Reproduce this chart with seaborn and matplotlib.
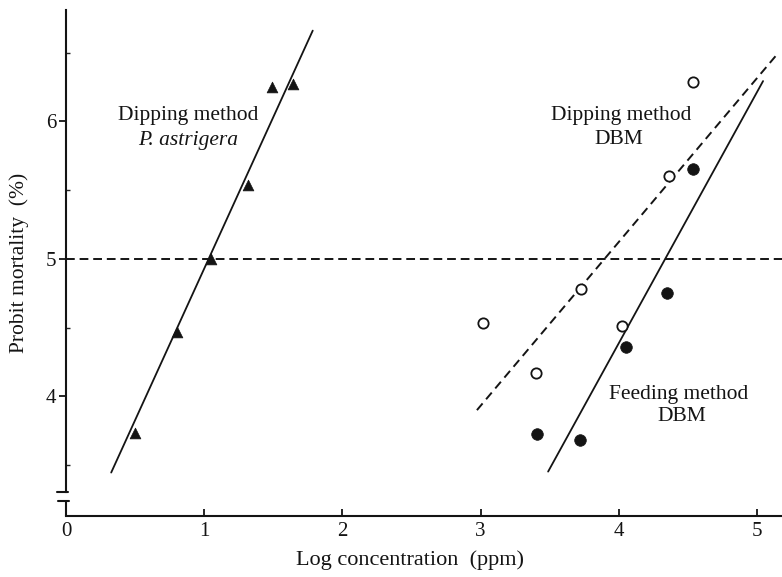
import matplotlib
matplotlib.use("Agg")
import matplotlib.pyplot as plt
import seaborn as sns
import pandas as pd

# ---- data ----
# Dipping method, P. astrigera (filled triangles)
pa_x = [0.50, 0.80, 1.05, 1.32, 1.49, 1.64]
pa_y = [3.73, 4.47, 5.00, 5.535, 6.25, 6.27]
# Dipping method, DBM (open circles)
dip_x = [3.02, 3.40, 3.725, 4.025, 4.364, 4.533]
dip_y = [4.53, 4.17, 4.78, 4.51, 5.60, 6.285]
# Feeding method, DBM (filled circles)
feed_x = [3.41, 3.72, 4.05, 4.35, 4.533]
feed_y = [3.727, 3.683, 4.36, 4.75, 5.656]
# fitted probit lines (end points)
pa_line_x = [0.327, 1.785]
pa_line_y = [3.446, 6.66]
dip_line_x = [2.973, 5.138]
dip_line_y = [3.90, 6.48]
feed_line_x = [3.488, 5.043]
feed_line_y = [3.453, 6.293]
# 50 % mortality level
probit50 = 5.0
x_ticks = [0, 1, 2, 3, 4, 5]
y_ticks = [4, 5, 6]
y_minor = [3.5, 4.5, 5.5, 6.5]

sns.set_style("white")
plt.rcParams['font.family'] = ['Liberation Serif', 'DejaVu Serif']

fig = plt.figure(figsize=(7.82, 5.77), dpi=100)
ax = fig.add_axes([66/782, 1-516/577, 1-66/782, (516-10)/577])
ink = '#141414'

# lines
ax.axhline(probit50, color=ink, lw=1.4, ls=(0, (4.5, 2.5)), zorder=1)
sns.lineplot(x=pa_line_x, y=pa_line_y, ax=ax, color=ink, lw=1.3,
             sort=False, estimator=None, zorder=2)
sns.lineplot(x=dip_line_x, y=dip_line_y, ax=ax, color=ink, lw=1.4,
             linestyle=(0, (4.5, 2.8)), sort=False, estimator=None, zorder=2)
sns.lineplot(x=feed_line_x, y=feed_line_y, ax=ax, color=ink, lw=1.3,
             sort=False, estimator=None, zorder=2)

# points
sns.scatterplot(x=pa_x, y=pa_y, ax=ax, marker='^', s=60, color=ink,
                edgecolor=ink, linewidth=0.5, zorder=3)
sns.scatterplot(x=dip_x, y=dip_y, ax=ax, marker='o', s=55, color='white',
                edgecolor=ink, linewidth=1.3, zorder=3)
sns.scatterplot(x=feed_x, y=feed_y, ax=ax, marker='o', s=70, color=ink,
                edgecolor=ink, linewidth=0.5, zorder=3)

ax.set_xlim(0, 5.18)
ax.set_ylim(3.13, 6.81)

# spines
sns.despine(ax=ax)
for s in ['left', 'bottom']:
    ax.spines[s].set_linewidth(1.5)
    ax.spines[s].set_color(ink)
ax.spines['left'].set_bounds(3.308, 6.81)
ytr = ax.get_yaxis_transform()
ax.plot([0, 0], [3.13, 3.24], transform=ytr, color=ink, lw=1.5, clip_on=False)
ax.plot([-0.012, 0.003], [3.308, 3.308], transform=ytr, color=ink, lw=1.5, clip_on=False)
ax.plot([-0.011, 0.004], [3.24, 3.24], transform=ytr, color=ink, lw=1.5, clip_on=False)

# ticks
ax.set_xticks(x_ticks)
ax.set_xticklabels([str(v) for v in x_ticks])
ax.set_yticks(y_ticks)
ax.set_yticklabels([str(v) for v in y_ticks])
ax.set_yticks(y_minor, minor=True)
ax.tick_params(axis='x', direction='in', length=5, width=1.3, pad=4,
               labelsize=15, colors=ink, bottom=True)
ax.tick_params(axis='y', which='major', direction='out', length=5, width=1.3,
               pad=2, labelsize=15, colors=ink, left=True)
ax.tick_params(axis='y', which='minor', direction='in', length=3, width=1.0,
               left=True)

# labels
ax.set_xlabel('Log concentration  (ppm)', fontsize=16, color=ink)
ax.set_ylabel('Probit mortality  (%)', fontsize=15.5, color=ink)
ax.xaxis.set_label_coords(0.481, -0.068)
ax.yaxis.set_label_coords(-0.051, 0.50)

# annotations
fs = 15.5
ax.text(0.885, 6.04, 'Dipping method', fontsize=fs, ha='center', va='center', color=ink)
ax.text(0.88, 5.86, 'P. astrigera', fontsize=fs, ha='center', va='center',
        style='italic', color=ink)
ax.text(4.02, 6.04, 'Dipping method', fontsize=fs, ha='center', va='center', color=ink)
ax.text(4.0, 5.87, 'DBM', fontsize=fs, ha='center', va='center', color=ink)
ax.text(4.43, 4.01, 'Feeding method', fontsize=fs, ha='center', va='center', color=ink)
ax.text(4.455, 3.85, 'DBM', fontsize=fs, ha='center', va='center', color=ink)

fig.savefig('out.png', dpi=100)
